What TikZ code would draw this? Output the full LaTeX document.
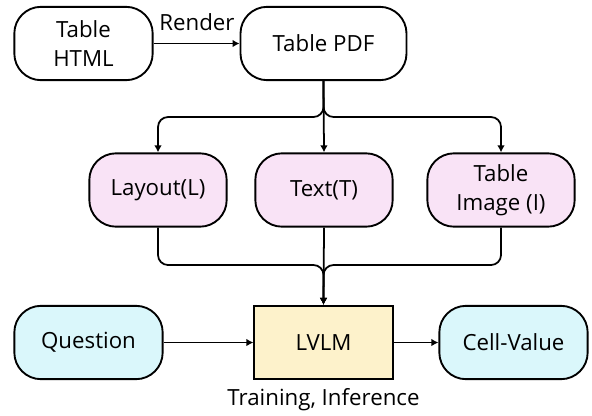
\documentclass[tikz,border=0pt]{standalone}
\usepackage{fontspec}
\setmainfont{Open Sans}
\usepackage{tikz}
\usetikzlibrary{positioning, arrows, arrows.meta, calc, shapes}
\definecolor{pinkfill}{HTML}{F9E3F6}
\definecolor{cyanfill}{HTML}{DAF7FB}
\definecolor{yellowfill}{HTML}{FDF2CB}

\begin{document}
\begin{tikzpicture}[x=0.03cm, y=-0.03cm,
	txt/.style={font=\fontsize{19}{25}\selectfont},
	box/.style={draw, line width=1.6pt, rounded corners=0.8cm, text centered, align=center,
	minimum height=2.2cm, txt},
	flow/.style={-{Latex[length=6pt, width=6.5pt]}, line width=1.5pt}]
		\useasboundingbox (0,0) rectangle (592,415);
		
		%Shapes
		\node (html) at (83.5,43.5) [box, minimum width=4.15cm]{Table\\HTML};
		\node (pdf) at (323.5,43.5) [box, minimum width=4.98cm]{Table PDF};
		\node (layout) at (158,190) [box, fill=pinkfill, minimum width=4.12cm]{Layout(L)};
		\node (text) at (324,190) [box, fill=pinkfill, minimum width=4.12cm]{Text(T)};
		\node (image) at (501,190) [box, fill=pinkfill, minimum width=4.42cm]{Table\\Image (I)};
		\node (question) at (88.5,342.5) [box, fill=cyanfill, minimum width=4.45cm]{Question};
		\node (lvlm) at (323.5,342.5) [box, rounded corners=0pt, fill=yellowfill, 
		minimum width=4.15cm]{LVLM};
		\node (cell) at (513.5,342.5) [box, fill=cyanfill, minimum width=4.45cm]{Cell-Value};
		
		%Labels
		\node (render) at (197,22) [txt]{Render};
		\node (mode) at (323.5,400) [txt]{Training, Inference};
		
		%Arrows
		\coordinate (split) at (323.5,117);
		\coordinate (merge) at (323.5,265);
		\draw[flow] (html) -- (pdf);
		\draw[flow, rounded corners=0.3cm] (pdf.south) -- (split) -| (layout.north);
		\draw[flow, rounded corners=0.3cm] (pdf.south) -- (split) -| (image.north);
		\draw[flow] (pdf.south) -- (text.north);
		\draw[flow, rounded corners=0.3cm] (layout.south) |- (merge) -- (lvlm.north);
		\draw[flow, rounded corners=0.3cm] (image.south) |- (merge) -- (lvlm.north);
		\draw[flow] (text.south) -- (lvlm.north);
		\draw[flow] (question) -- (lvlm);
		\draw[flow] (lvlm) -- (cell);
\end{tikzpicture}
\end{document}
